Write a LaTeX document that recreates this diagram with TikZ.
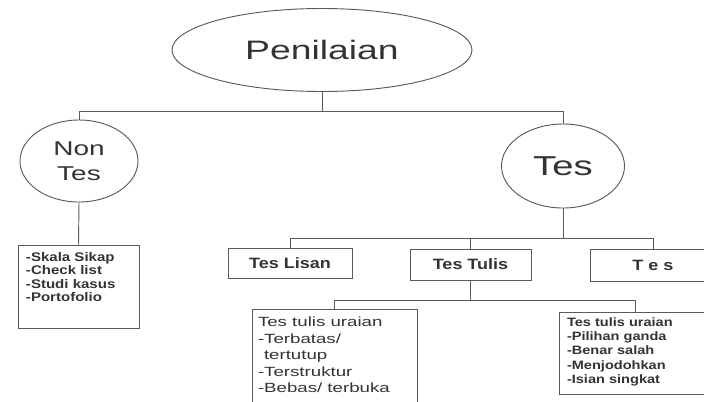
\documentclass[tikz,border=0pt]{standalone}
\usepackage{fontspec}
\setmainfont{Liberation Sans}
\newfontfamily\scanfont[FakeStretch=1.4]{Liberation Sans}
\newfontfamily\scanbold[FakeStretch=1.2]{Liberation Sans}
\usepackage{tikz}
\usetikzlibrary{shapes.geometric}
\definecolor{pnink}{HTML}{333333}
\definecolor{pnline}{HTML}{5A5A5A}
\tikzset{
  pnoval/.style={ellipse, draw=pnline, line width=0.7pt, inner sep=0pt, text=pnink},
  pnbox/.style={rectangle, draw=pnline, line width=0.7pt, inner sep=0pt, text=pnink},
  pnhead/.style={pnbox, font=\scanbold\bfseries\fontsize{11.25pt}{13.5pt}\selectfont},
  pnlink/.style={draw=pnline, line width=0.7pt, line cap=butt},
}

\begin{document}
\begin{tikzpicture}[x=0.75pt, y=-0.75pt]
\useasboundingbox (0,0) rectangle (704,401);
\clip (0,0) rectangle (704,401);
\node[pnoval, minimum width=225pt, minimum height=62.25pt, font=\scanfont\fontsize{20pt}{24pt}\selectfont] (pen) at (322,50) {Penilaian};
\node[pnoval, minimum width=88.5pt, minimum height=61.5pt, align=center, font=\scanfont\fontsize{15pt}{18.75pt}\selectfont] (nontes) at (79,161) {Non\\Tes};
\node[pnoval, minimum width=92.25pt, minimum height=63pt, font=\scanfont\fontsize{20.5pt}{24pt}\selectfont] (tes) at (563,166) {Tes};
\node[pnbox, inner xsep=6pt, inner ysep=5.5pt, font=\scanbold\bfseries\fontsize{9.4pt}{10pt}\selectfont] (ntlist) at (78.5,286.5) {\parbox[c][51.25pt][t]{78.75pt}{-Skala Sikap\\-Check list\\-Studi kasus\\-Portofolio}};
\node[pnhead, minimum width=93pt, minimum height=22.5pt] (lisan) at (290,263) {Tes Lisan};
\node[pnhead, minimum width=90.75pt, minimum height=23.25pt] (tulis) at (470.5,264.5) {Tes Tulis};
\node[pnhead, minimum width=94.5pt, minimum height=24pt] (tesjenis) at (653,265) {T e s};
\node[pnbox, inner xsep=4.5pt, inner ysep=6pt, font=\scanfont\fontsize{10pt}{12.4pt}\selectfont] (uraian) at (334.5,360.5) {\parbox[c][65.25pt][t]{114.75pt}{Tes tulis uraian\\-Terbatas/\\\hspace*{0.45em}tertutup\\-Terstruktur\\-Bebas/ terbuka}};
\node[pnbox, inner xsep=6pt, inner ysep=4.2pt, font=\scanbold\bfseries\fontsize{9.1pt}{10.7pt}\selectfont] (objektif) at (635.5,353) {\parbox[c][53.1pt][t]{102.75pt}{Tes tulis uraian\\-Pilihan ganda\\-Benar salah\\-Menjodohkan\\-Isian singkat}};
\coordinate (pensplit) at (322,111);
\coordinate (tessplit) at (563,238);
\coordinate (tulissplit) at (470.5,300);
\draw[pnlink] (pen.south) -- (pensplit);
\draw[pnlink] (nontes.north) -- (nontes.north |- pensplit) -- (tes.north |- pensplit) -- (tes.north);
\draw[pnlink] (nontes.south) -- (ntlist.north);
\draw[pnlink] (tes.south) -- (tessplit);
\draw[pnlink] (lisan.north) -- (lisan.north |- tessplit) -- (tesjenis.north |- tessplit) -- (tesjenis.north);
\draw[pnlink] (tulis.north) -- (tulis.north |- tessplit);
\draw[pnlink] (tulis.south) -- (tulissplit);
\draw[pnlink] (uraian.north) -- (uraian.north |- tulissplit) -- (objektif.north |- tulissplit) -- (objektif.north);
\end{tikzpicture}
\end{document}
